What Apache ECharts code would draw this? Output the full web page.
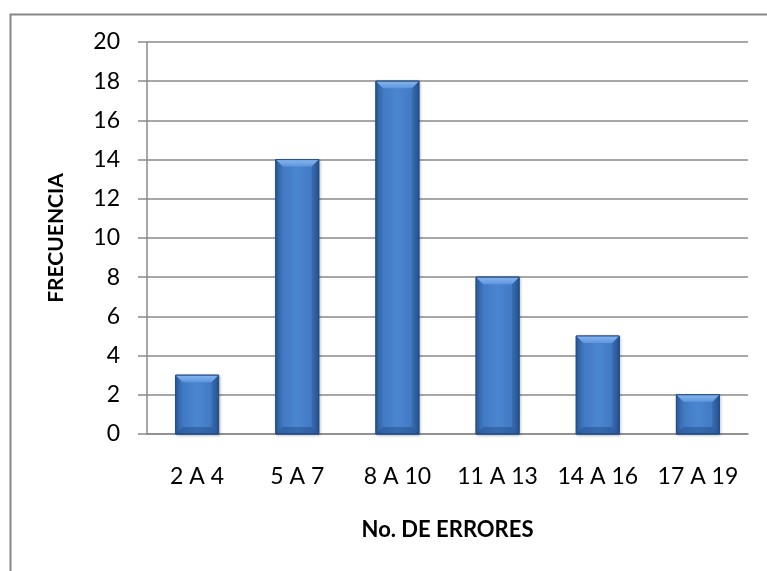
<!DOCTYPE html>
<html>
<head>
<meta charset="utf-8">
<script src="https://cdn.jsdelivr.net/npm/echarts@6/dist/echarts.min.js"></script>
<style>
  html, body { margin: 0; padding: 0; background: #fff; }
  #chart { width: 767px; height: 571px; }
</style>
</head>
<body>
<div id="chart"></div>
<script>
// Frequency of errors per range
const categories = ['2 A 4', '5 A 7', '8 A 10', '11 A 13', '14 A 16', '17 A 19'];
const frequencies = [3, 14, 18, 8, 5, 2];
const yTicks = { min: 0, max: 20, interval: 2 };

const chart = echarts.init(document.getElementById('chart'));
const FONT = 'Lato, "Liberation Sans", Arial, sans-serif';
const BAR_W = 43;
const BEVEL = 7;

// Bevelled bar: body with horizontal shading plus lighter top and darker bottom edges
function renderBevelBar(params, api) {
  const idx = api.value(0);
  const val = api.value(1);
  const top = api.coord([idx, val]);
  const base = api.coord([idx, 0]);
  const x0 = top[0] - BAR_W / 2, x1 = top[0] + BAR_W / 2;
  const y0 = top[1], y1 = base[1];
  const h = y1 - y0;
  const b = Math.min(BEVEL, h / 2);
  const body = new echarts.graphic.LinearGradient(0, 0, 1, 0, [
    { offset: 0, color: '#2f62a6' },
    { offset: 0.15, color: '#4179c2' },
    { offset: 0.5, color: '#4b86d1' },
    { offset: 0.85, color: '#4179c2' },
    { offset: 1, color: '#2c5b9c' }
  ]);
  return {
    type: 'group',
    children: [
      { type: 'rect', shape: { x: x0, y: y0, width: BAR_W, height: h },
        style: { fill: body, stroke: '#244f8c', lineWidth: 1,
                 shadowBlur: 3, shadowColor: 'rgba(0,0,0,0.25)', shadowOffsetX: 1, shadowOffsetY: 1 } },
      { type: 'polygon', shape: { points: [[x0, y0], [x1, y0], [x1 - b, y0 + b], [x0 + b, y0 + b]] },
        style: { fill: new echarts.graphic.LinearGradient(0, 0, 0, 1, [
          { offset: 0, color: '#86b6f0' }, { offset: 1, color: '#5e96dc' }]) } },
      { type: 'polygon', shape: { points: [[x0, y1], [x1, y1], [x1 - b, y1 - b], [x0 + b, y1 - b]] },
        style: { fill: 'rgba(30,70,130,0.45)' } },
      { type: 'polygon', shape: { points: [[x0, y0], [x0 + b, y0 + b], [x0 + b, y1 - b], [x0, y1]] },
        style: { fill: 'rgba(30,70,130,0.12)' } },
      { type: 'polygon', shape: { points: [[x1, y0], [x1 - b, y0 + b], [x1 - b, y1 - b], [x1, y1]] },
        style: { fill: 'rgba(20,50,100,0.22)' } },
      { type: 'rect', shape: { x: x0, y: y0, width: BAR_W, height: h },
        style: { fill: 'none', stroke: '#244f8c', lineWidth: 1 } }
    ]
  };
}

chart.setOption({
  animation: false,
  backgroundColor: '#fff',
  graphic: [{
    type: 'rect', left: 8, top: 12, z: -1,
    shape: { width: 800, height: 600 },
    style: { fill: 'none', stroke: '#878787', lineWidth: 2 }
  }],
  grid: { left: 147, right: 19, top: 42, bottom: 137 },
  xAxis: {
    type: 'category',
    data: categories,
    name: 'No. DE ERRORES',
    nameLocation: 'middle',
    nameGap: 85,
    nameTextStyle: { fontFamily: FONT, fontSize: 22, fontWeight: 'bold', color: '#000' },
    axisLine: { lineStyle: { color: '#8a8a8a', width: 1.5 } },
    axisTick: { show: false },
    axisLabel: { fontFamily: FONT, fontSize: 23, color: '#000', margin: 31, interval: 0 }
  },
  yAxis: {
    type: 'value',
    min: yTicks.min, max: yTicks.max, interval: yTicks.interval,
    name: 'FRECUENCIA',
    nameLocation: 'middle',
    nameGap: 80,
    nameTextStyle: { fontFamily: FONT, fontSize: 21, fontWeight: 'bold', color: '#000' },
    axisLine: { show: true, lineStyle: { color: '#8a8a8a', width: 1.5 } },
    axisTick: { show: true, length: 9, lineStyle: { color: '#8a8a8a', width: 1.5 } },
    axisLabel: { fontFamily: FONT, fontSize: 23, color: '#000', margin: 27 },
    splitLine: { lineStyle: { color: '#8a8a8a', width: 1.5 } }
  },
  series: [{
    type: 'custom',
    renderItem: renderBevelBar,
    encode: { x: 0, y: 1 },
    data: frequencies.map((v, i) => [i, v]),
    z: 3
  }]
});
</script>
</body>
</html>
